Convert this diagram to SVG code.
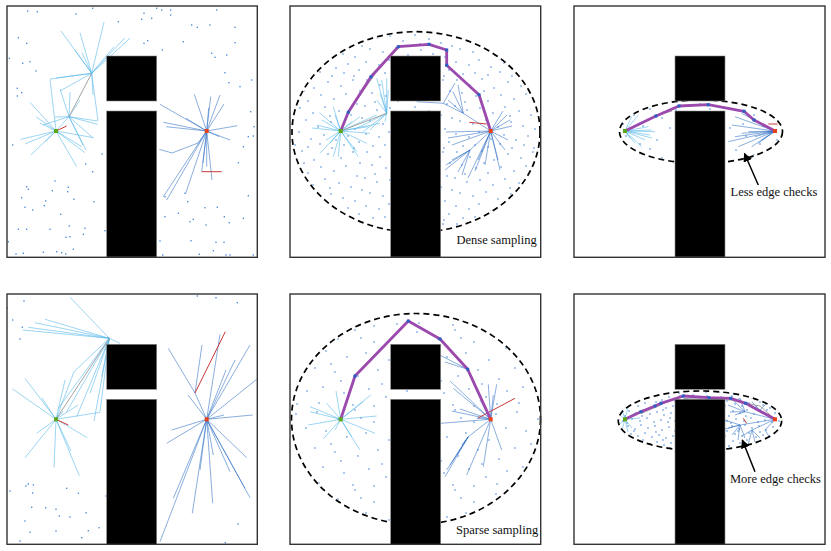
<svg xmlns="http://www.w3.org/2000/svg" width="831" height="551" viewBox="0 0 831 551">
<style>
.fr{fill:none;stroke:#333;stroke-width:1.4}
.ob{fill:#000;stroke:#888;stroke-width:0.6}
.st{fill:none;stroke:#4fb4ea;stroke-width:0.75;stroke-opacity:0.75}
.gt{fill:none;stroke:#2f6fc4;stroke-width:0.75;stroke-opacity:0.75}
.gr{fill:none;stroke:#999;stroke-width:0.9}
.rd{fill:none;stroke:#c8383a;stroke-width:1}
.pa{fill:none;stroke:#9b49ad;stroke-width:2.8;stroke-linejoin:round}
.pn{fill:none;stroke:#2a5fc2;stroke-width:3;stroke-linecap:square}
.pt{fill:none;stroke:#3a80d4;stroke-width:1.6;stroke-linecap:round}
.el{fill:none;stroke:#000;stroke-width:1.7;stroke-dasharray:6 4}
.sg{fill:none;stroke:#5aa817;stroke-width:4;stroke-linecap:square}
.sr{fill:none;stroke:#e8421a;stroke-width:4;stroke-linecap:square}
.tx{font-family:"Liberation Serif","Times New Roman",serif;font-size:12.5px;fill:#111}
.ar{stroke:#000;stroke-width:1.5;fill:none}
.dp{fill:none;stroke:#3a80d4;stroke-width:1.6;stroke-linecap:round}
</style>
<defs>
<marker id="ah" viewBox="0 0 10 10" refX="9" refY="5" markerWidth="6" markerHeight="6" orient="auto" markerUnits="strokeWidth"><path d="M0 0L10 5L0 10z" fill="#000"/></marker>
<pattern id="pd" width="90" height="72" patternUnits="userSpaceOnUse" x="3" y="5"><path class="dp" d="M4 3h.01M17 8h.01M29 2h.01M41 11h.01M55 5h.01M68 9h.01M80 3h.01M87 14h.01M9 16h.01M23 19h.01M35 24h.01M48 18h.01M61 22h.01M73 17h.01M84 27h.01M2 29h.01M14 33h.01M27 31h.01M40 36h.01M52 30h.01M66 34h.01M78 38h.01M89 41h.01M7 44h.01M20 47h.01M33 43h.01M45 50h.01M58 45h.01M70 49h.01M82 52h.01M3 57h.01M16 60h.01M26 55h.01M38 62h.01M51 58h.01M63 63h.01M75 59h.01M86 65h.01M10 69h.01M22 68h.01M35 70h.01M47 67h.01M59 71h.01M71 68h.01M81 71h.01M12 25h.01M57 39h.01M31 14h.01"/></pattern>
<pattern id="ps" width="100" height="80" patternUnits="userSpaceOnUse" x="11" y="7"><path class="dp" d="M6 5h.01M27 12h.01M44 3h.01M63 15h.01M85 7h.01M15 24h.01M36 30h.01M55 26h.01M78 33h.01M95 21h.01M4 41h.01M24 45h.01M47 49h.01M67 43h.01M88 52h.01M12 60h.01M33 66h.01M58 62h.01M75 70h.01M96 64h.01M8 76h.01M42 78h.01M63 79h.01M86 77h.01M20 37h.01M71 57h.01M50 11h.01M30 54h.01"/></pattern>
<pattern id="p3" width="60" height="40" patternUnits="userSpaceOnUse" x="5" y="2"><path class="dp" d="M5 6h.01M21 14h.01M38 4h.01M52 18h.01M11 28h.01M29 33h.01M45 27h.01M57 36h.01M18 2h.01M35 22h.01"/></pattern>
<pattern id="p6" width="52" height="30" patternUnits="userSpaceOnUse" x="2" y="4"><path class="dp" d="M2 2h.01M9 5h.01M15 1h.01M22 4h.01M29 2h.01M36 6h.01M43 3h.01M49 7h.01M5 10h.01M12 12h.01M19 9h.01M26 13h.01M33 11h.01M40 14h.01M47 12h.01M3 17h.01M10 19h.01M17 16h.01M24 20h.01M31 18h.01M38 21h.01M45 19h.01M51 22h.01M6 25h.01M14 27h.01M21 24h.01M28 28h.01M35 26h.01M42 28h.01M49 27h.01M8 7h.01M30 8h.01M16 22h.01M44 24h.01M37 16h.01M1 29h.01"/></pattern>
</defs>

<g id="panel1">
<path class="pt" d="M27.7 11h.01M37.3 11.7h.01M76 14h.01M92.7 8.3h.01M118.3 21.7h.01M141.7 19.3h.01M144 13.3h.01M151.7 18.3h.01M156.7 8.3h.01M161.7 10h.01M170.7 10h.01M170.7 15h.01M191.7 25h.01M197.3 27.3h.01M210 25h.01M216.7 10h.01M235 27.3h.01M235 42.7h.01M183.3 41.7h.01M162.3 50h.01M144 43.3h.01M147.7 40.7h.01M211.7 53.3h.01M215 57.3h.01M226.7 55h.01M225 72.7h.01M229 82.7h.01M240 86.7h.01M251.7 80h.01M18.3 37.7h.01M26.7 43.3h.01M9.3 58.3h.01M22.7 63.3h.01M30 61.7h.01M36 71h.01M17.3 88.3h.01M21.7 92.7h.01M17.3 96h.01M12.7 145h.01M102 154h.01M85.7 164h.01M92.7 171.7h.01M250.7 111.7h.01M254 126.7h.01M248.3 136.7h.01M253.3 136h.01M243.3 146.7h.01M238.3 162.7h.01M55 181h.01M68.3 187.3h.01M67.7 191.7h.01M52.3 190.7h.01M26.7 186.7h.01M28.3 189.3h.01M21.7 197.7h.01M45.7 201h.01M44.3 205.7h.01M32.7 210h.01M25 207.3h.01M74 199.3h.01M94 201.7h.01M60.7 214.3h.01M69.3 226h.01M85 228.3h.01M50 229.3h.01M26.7 229.3h.01M18.3 229.3h.01M70 236.7h.01M66 237.3h.01M83.3 234.3h.01M8.3 241.7h.01M43.3 252.3h.01M56.7 251.7h.01M61.7 252.7h.01M65.7 254h.01M73.3 249.3h.01M16 254h.01M23.3 253.3h.01M105 230.7h.01M187.7 201.7h.01M205 207.7h.01M217.3 207.3h.01M178.3 213.3h.01M165 216.7h.01M193.3 219.3h.01M190 221.7h.01M206 225h.01M224.3 216.7h.01M229.3 222.7h.01M243.3 218.3h.01M248.3 195.7h.01M160 241h.01M191 240.7h.01M216 242.3h.01M224 242.3h.01M199.3 254.3h.01M213.3 250.7h.01M226 255h.01M230 255h.01M162.7 255h.01M253.3 255h.01M165 196.7h.01M185 193.3h.01"/>
<path class="st" d="M56 131L30 102.3M56 131L20.7 139.3M56 131L25 144M56 131L30.7 155M56 131L45 141.7M56 131L36 116.7M56 131L50 79.3M56 131L76.7 166.7M56 131L85 152.7M56 131L81.7 146.7M56 131L94 137.7M56 131L39.7 123M56 131L69 116.7M69 116.7L97.7 121M69 116.7L97.7 124.3M69 116.7L60 89M69 116.7L70 92M69 116.7L83 145M69 116.7L86 150M69 116.7L43 125M69 116.7L55 117M69 116.7L92 137M69 116.7L80 100M91.7 73.3L61 31M91.7 73.3L80 32.7M91.7 73.3L104 22M91.7 73.3L124.7 38M91.7 73.3L130 38.3M91.7 73.3L114 46.7M91.7 73.3L50 79M91.7 73.3L56 78M91.7 73.3L75 50M91.7 73.3L82 52.7M91.7 73.3L98 120.7M91.7 73.3L93 95M91.7 73.3L60 91"/>
<path class="gr" d="M69 116.7L91.7 73.3"/>
<path class="rd" d="M56 131L66.7 126"/>
<path class="gt" d="M206.7 131L194.3 94.3M206.7 131L210.7 96.7M206.7 131L220 95M206.7 131L224 104M206.7 131L208.7 107.7M206.7 131L237.3 125.7M206.7 131L163.3 122.3M206.7 131L166 126.7M206.7 131L186 118.3M206.7 131L160 104.3M206.7 131L219.3 136.7M206.7 131L212 180M206.7 131L206.7 166.7M206.7 131L201.7 171.7M206.7 131L185.7 193.3M206.7 131L166.7 200M206.7 131L163.3 196.7M206.7 131L198 143L172 153L159.3 149.3M206.7 131L203 163M206.7 131L230 140"/>
<path class="rd" d="M201.7 171.7L221.7 171.7"/>
<path class="sg" d="M56 131h.01"/>
<path class="sr" d="M206.7 131h.01"/>
<rect class="ob" x="106.7" y="56" width="50" height="45"/>
<rect class="ob" x="106.7" y="111" width="50" height="146"/>
<rect class="fr" x="7" y="6" width="250.3" height="251.3"/>
</g>

<g id="panel2">
<ellipse cx="416" cy="132" rx="123" ry="99" fill="url(#pd)"/>
<path class="st" d="M340.7 131L319.3 112.7M340.7 131L321.7 120M340.7 131L333.3 106.7M340.7 131L335 115M340.7 131L316.7 125M340.7 131L320 153.3M340.7 131L330 143.3M340.7 131L333.3 156.7M340.7 131L338.3 156.7M340.7 131L356.7 151.7M340.7 131L358.3 156.7M340.7 131L366.7 143.3M340.7 131L370 133.3M340.7 131L368.3 126.7M340.7 131L360 116.7M340.7 131L351.7 121.7M340.7 131L376.7 115M340.7 131L380 123.3M340.7 131L312 128M340.7 131L326 140M386.7 113.3L376.7 78.3M386.7 113.3L381.7 80M386.7 113.3L386.7 78.3M386.7 113.3L388.3 90M386.7 113.3L380 93.3M386.7 113.3L376.7 100M386.7 113.3L370 130M386.7 113.3L363.3 131.7M386.7 113.3L356.7 128.3M386.7 113.3L385 121.7"/>
<path class="gr" d="M340.7 131L386.7 113.3M348.3 112.3L375 74"/>
<path class="gt" d="M490.7 131L463.3 113.3L443.3 103.3L416.7 101.7M463.3 113.3L453 92M463.3 113.3L458 85M463.3 113.3L448 100M443.3 103.3L455 83M490.7 131L470 150L445 170M470 150L452 160M470 150L458 172M470 150L462 175M470 150L446 165M490.7 131L503 111M490.7 131L507 115M490.7 131L510 120M490.7 131L512 126M490.7 131L508 140M490.7 131L505 150M490.7 131L498 160M490.7 131L485 165M490.7 131L478 160M490.7 131L500 170M490.7 131L448 138M490.7 131L452 145M490.7 131L446 132M490.7 131L475 171M490.7 131L468 178"/>
<path class="rd" d="M469.3 122.3L486.7 124"/>
<path class="pa" d="M340.7 131L348.3 112.3L371 76.7L398.3 46.7L429 44.3L446.7 50L446.7 65.3L479 94.7L490.7 131"/>
<path class="pn" d="M348.3 112.3h.01M371 76.7h.01M398.3 46.7h.01M429 44.3h.01M446.7 50h.01M446.7 65.3h.01M479 94.7h.01"/>
<path class="sg" d="M340.7 131h.01"/>
<path class="sr" d="M490.7 131h.01"/>
<ellipse class="el" cx="416" cy="132" rx="124" ry="100.3"/>
<rect class="ob" x="390.7" y="56" width="50" height="45"/>
<rect class="ob" x="390.7" y="111" width="50" height="146"/>
<text class="tx" x="456.5" y="243.5">Dense sampling</text>
<rect class="fr" x="290" y="6" width="250.7" height="251.3"/>
</g>

<g id="panel3">
<ellipse cx="701" cy="131.7" rx="81" ry="31.3" fill="url(#p3)"/>
<path class="st" d="M625 131L631.7 116.7M625 131L641.7 121.7M625 131L648.3 126.7M625 131L651.7 130M625 131L655 131.7M625 131L650 135M625 131L645 140M625 131L641.7 146.7M625 131L635 143.3M625 131L630 138.3M625 131L638.3 115M625 131L652 138"/>
<path class="gr" d="M656 116L672 111"/>
<path class="gt" d="M775 131L728.3 141.7M775 131L735 136.7M775 131L741.7 133.3M775 131L748.3 131.7M775 131L755 128.3M775 131L735 116.7M775 131L741.7 113.3M775 131L755 136.7M775 131L761.7 140M775 131L768.3 133.3M775 131L758.3 143.3M775 131L751.7 146.7M775 131L738.3 146.7M755 128.3L732 125"/>
<path class="rd" d="M768.3 124L777.7 124"/>
<path class="pa" d="M625 131L656 116L679 106L708.3 104.7L744 111.3L754 120L775 131"/>
<path class="pn" d="M656 116h.01M679 106h.01M708.3 104.7h.01M744 111.3h.01M754 120h.01"/>
<path class="sg" d="M625 131h.01"/>
<path class="sr" d="M775 131h.01"/>
<ellipse class="el" cx="701" cy="131.7" rx="81.5" ry="31.7"/>
<rect class="ob" x="675" y="56" width="50" height="45"/>
<rect class="ob" x="675" y="111" width="50" height="146"/>
<path class="ar" d="M758.3 185L744.5 153.5" marker-end="url(#ah)"/>
<text class="tx" x="730.5" y="195.5">Less edge checks</text>
<rect class="fr" x="574" y="6" width="251" height="251.3"/>
</g>

<g id="panel4">
<path class="pt" d="M24 301h.01M7.3 307.7h.01M12.7 320h.01M22.3 327.3h.01M20 339h.01M197.3 296h.01M216 297.7h.01M237.3 302.7h.01M10 491h.01M26 486h.01M28.3 484h.01M33.3 485h.01M32.7 493h.01M66.7 488.3h.01M78.3 493.3h.01M31.7 507.3h.01M45.7 507.7h.01M56 509.3h.01M59.3 516h.01M70 517h.01M86 512.7h.01M25 521h.01M30 532.3h.01M56 531h.01M88.3 530.7h.01M99 527.7h.01M81.7 537.7h.01M20 541h.01M106 496h.01M225.3 542.7h.01M238 524h.01"/>
<path class="st" d="M109.3 338.3L22.7 330M109.3 338.3L28.3 327.3M109.3 338.3L35 322.7M109.3 338.3L45 319.3M109.3 338.3L70 297.3M109.3 338.3L120 343.3M109.3 338.3L74 371.7M109.3 338.3L66.7 411.7M109.3 338.3L100 411.7M109.3 338.3L94 421M109.3 338.3L76.7 416.7M109.3 338.3L58.3 408.3M109.3 338.3L90 393.3M109.3 338.3L101.7 376.7M74 371.7L56 419.3M56 419.3L25 378.3M56 419.3L12.7 389M56 419.3L36.7 433.3M56 419.3L25 457.7M56 419.3L54 467.3M56 419.3L79.3 475.7M56 419.3L71 451M56 419.3L87.3 437.7M56 419.3L41.7 397.7M56 419.3L63.3 411M56 419.3L100 412.3M56 419.3L65 380M56 419.3L78 405"/>
<path class="gr" d="M56 419.3L109.3 338.3"/>
<path class="rd" d="M56 419.3L68.3 425"/>
<path class="gt" d="M206.7 419.3L195 393L168.3 348.3M195 393L202 345M206.7 419.3L250 345M206.7 419.3L235 360M206.7 419.3L226 370M206.7 419.3L220 334.3M206.7 419.3L256.7 379.3M206.7 419.3L252.7 415M206.7 419.3L224 415M206.7 419.3L171.7 430M206.7 419.3L166.7 443.3M206.7 419.3L173.3 498.3M206.7 419.3L192.3 513.3M206.7 419.3L160 541.7M206.7 419.3L212.7 503.3M206.7 419.3L250 497.7M206.7 419.3L246.7 457.7M206.7 419.3L245 488.3M206.7 419.3L230 471.7M206.7 419.3L213.3 455M206.7 419.3L188 395M206.7 419.3L200 470"/>
<path class="rd" d="M195 393L225.3 331.7"/>
<path class="sg" d="M56 419.3h.01"/>
<path class="sr" d="M206.7 419.3h.01"/>
<rect class="ob" x="106.7" y="344.3" width="50" height="45"/>
<rect class="ob" x="106.7" y="399.3" width="50" height="145"/>
<rect class="fr" x="7" y="294" width="250.3" height="250.3"/>
</g>

<g id="panel5">
<ellipse cx="416" cy="419" rx="123.5" ry="104.5" fill="url(#ps)"/>
<path class="st" d="M340.7 419.3L336 391M340.7 419.3L326.7 403.3M340.7 419.3L310 406.7M340.7 419.3L310 411.7M340.7 419.3L308.3 425M340.7 419.3L323.3 439M340.7 419.3L335 430M340.7 419.3L351.7 436.7M340.7 419.3L360 450M340.7 419.3L375 433.3M340.7 419.3L376.7 416M340.7 419.3L370.7 395M340.7 419.3L363.3 401.7M340.7 419.3L355 378.3"/>
<path class="gt" d="M490.7 419.3L451.7 411M490.7 419.3L460 409M490.7 419.3L476.7 418.3M490.7 419.3L441 423.3M490.7 419.3L450 381M490.7 419.3L453.3 388.3M490.7 419.3L473.3 383.3M490.7 419.3L488.3 384.3M490.7 419.3L496.7 384.3M490.7 419.3L493.3 395M490.7 419.3L501.7 450M490.7 419.3L483.3 466.7M490.7 419.3L466.7 475M490.7 419.3L468.3 436.7L445 476.7M468.3 436.7L446.7 470M468.3 436.7L450 465M468.3 436.7L456.7 455M468.3 436.7L461.7 445M467.7 369.3L441 355.7M467.7 369.3L445 362M490.7 419.3L480 400"/>
<path class="rd" d="M478 418L515 398.3"/>
<path class="pa" d="M340.7 419.3L355 376L408.3 321L440 339L467.7 369.3L490.7 419.3"/>
<path class="pn" d="M355 376h.01M408.3 321h.01M440 339h.01M467.7 369.3h.01"/>
<path class="sg" d="M340.7 419.3h.01"/>
<path class="sr" d="M490.7 419.3h.01"/>
<ellipse class="el" cx="416" cy="419" rx="124.5" ry="105.5"/>
<rect class="ob" x="390.7" y="344.3" width="50" height="45"/>
<rect class="ob" x="390.7" y="399.3" width="50" height="145"/>
<text class="tx" x="456" y="533.5">Sparse sampling</text>
<rect class="fr" x="290" y="294" width="250.7" height="250.3"/>
</g>

<g id="panel6">
<ellipse cx="700" cy="420.8" rx="81" ry="29.3" fill="url(#p6)"/>
<path class="st" d="M625 419.3L628 407M625 419.3L622 410M625 419.3L620 415M625 419.3L619 425M625 419.3L622 430M625 419.3L628 432M625 419.3L632 428M625 419.3L635 413M625 419.3L640 418"/>
<path class="gt" d="M775 419.3L745 411.7M775 419.3L740 425M775 419.3L752 430M775 419.3L760 410M775 419.3L765 430M745 411.7L728 405M745 411.7L733 400M745 411.7L740 398M745 411.7L735 415M745 411.7L730 412M740 425L725 420M740 425L728 428M740 425L732 435M740 425L738 440M740 425L745 438M752 430L748 445M752 430L755 442M752 430L760 438M760 410L752 402M760 410L766 404M765 430L770 438M740 425L722 430M752 430L742 436"/>
<path class="gr" d="M683.3 398.5L730.7 400L760 406L775 419.3M641 413.5L661 405"/>
<path class="rd" d="M743.3 418.3L746.7 423.3"/>
<path class="pa" d="M625 419.3L641 411.7L655 406L661 403.3L683.3 396L709 397.7L730.7 398.3L745.7 403.3L775 419.3"/>
<path class="pn" d="M641 411.7h.01M655 406h.01M661 403.3h.01M683.3 396h.01M709 397.7h.01M730.7 398.3h.01M745.7 403.3h.01"/>
<path class="sg" d="M625 419.3h.01"/>
<path class="sr" d="M775 419.3h.01"/>
<ellipse class="el" cx="700" cy="420.8" rx="81.7" ry="29.8"/>
<rect class="ob" x="675" y="344.3" width="50" height="45"/>
<rect class="ob" x="675" y="399.3" width="50" height="145"/>
<path class="ar" d="M755 471.7L742.3 440" marker-end="url(#ah)"/>
<text class="tx" x="730" y="482.7">More edge checks</text>
<rect class="fr" x="574" y="294" width="251" height="250.3"/>
</g>
</svg>
